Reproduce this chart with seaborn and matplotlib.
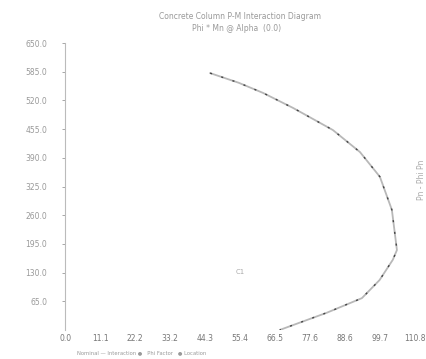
import matplotlib
matplotlib.use("Agg")
import matplotlib.pyplot as plt
import seaborn as sns
import pandas as pd

# Data (moment Mn, axial P)
moment = [45.9, 55.0, 62.7, 72.2, 84.8, 93.4, 99.7, 103.5, 105.1, 103.8, 99.6, 94.0, 82.9, 68.0]
axial = [582, 560, 537, 503, 453, 403, 347, 272, 181, 159, 113, 72, 39, 0]
x_ticks = [0.0, 11.1, 22.2, 33.2, 44.3, 55.4, 66.5, 77.6, 88.6, 99.7, 110.8]
y_ticks = [65.0, 130.0, 195.0, 260.0, 325.0, 390.0, 455.0, 520.0, 585.0, 650.0]
title = "Concrete Column P-M Interaction Diagram"
subtitle = "Phi * Mn @ Alpha  (0.0)"

df = pd.DataFrame({"M": moment, "P": axial})

sns.set_theme(style="white")
plt.rcParams['font.family'] = ['DejaVu Sans']

fig = plt.figure(figsize=(4.26, 3.59), dpi=100)
ax = fig.add_axes([0.153, 0.081, 0.821, 0.799])

sns.lineplot(data=df, x="M", y="P", sort=False, estimator=None, ax=ax, color="#b8b8b8", lw=1.3)
sns.lineplot(data=df, x="M", y="P", sort=False, estimator=None, ax=ax, color="#444444", lw=1.0,
             linestyle=(0, (1.5, 7)))

ax.set_xlim(0, 110.8)
ax.set_ylim(0, 650)
ax.set_xticks(x_ticks)
ax.set_xticklabels([f"{v:.1f}" for v in x_ticks])
ax.set_yticks(y_ticks)
ax.set_yticklabels([f"{v:.1f}" for v in y_ticks])
ax.set_xlabel("")
ax.set_ylabel("")

for s in ["top", "right", "bottom"]:
    ax.spines[s].set_visible(False)
ax.spines["left"].set_color("#bbbbbb")
ax.spines["left"].set_linewidth(0.8)
ax.tick_params(axis="y", colors="#999999", labelsize=5.5, length=2, width=0.6, pad=11, direction="out", left=True)
ax.tick_params(axis="x", colors="#888888", labelsize=5.5, length=0, pad=3)
for lbl in ax.get_xticklabels():
    lbl.set_color("#777777")

fig.text(0.563, 0.955, title, ha="center", va="center", fontsize=5.5, color="#999999")
fig.text(0.556, 0.92, subtitle, ha="center", va="center", fontsize=5.5, color="#999999")

ax.text(55.4, 131, "C1", fontsize=5, color="#aaaaaa", ha="center", va="center")

fig.text(0.99, 0.50, "Pn - Phi Pn", rotation=90, fontsize=5.5, color="#aaaaaa",
         ha="center", va="center")

fig.text(0.18, 0.018, "Nominal \u2014 Interaction \u25CF   Phi Factor   \u25CF Location", fontsize=3.8,
         color="#999999", ha="left", va="center")

fig.savefig("out.png", dpi=100)
